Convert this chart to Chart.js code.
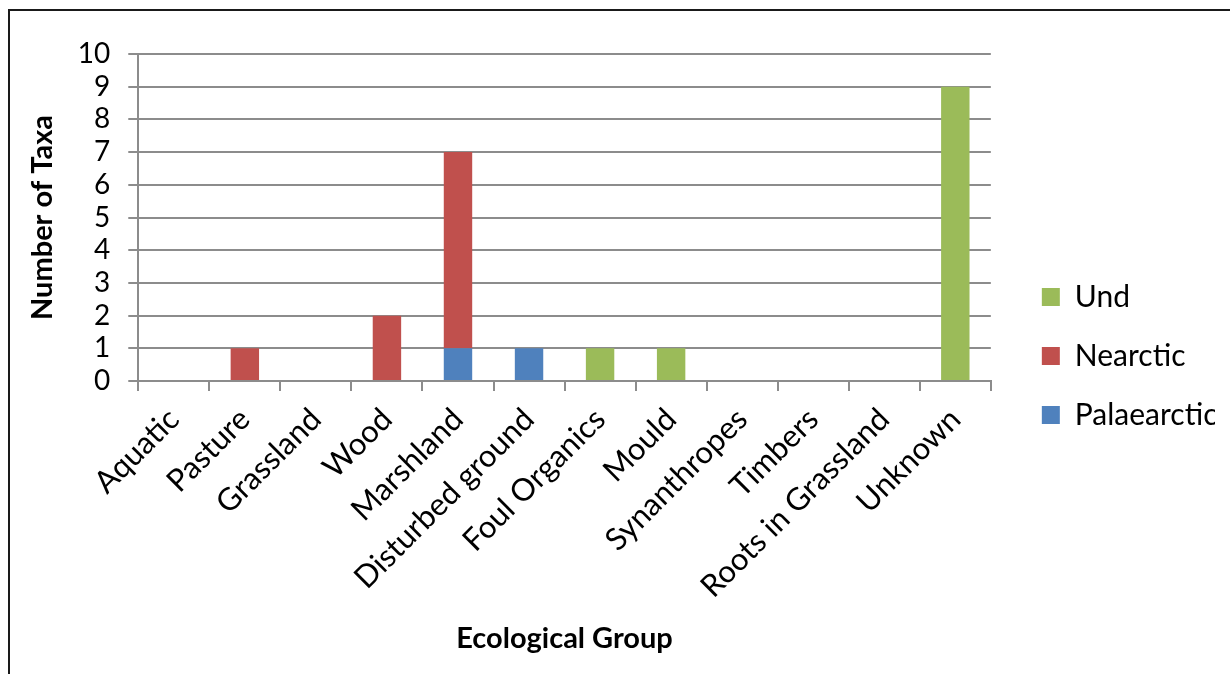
<!DOCTYPE html>
<html>
<head>
<meta charset="utf-8">
<script src="https://cdn.jsdelivr.net/npm/chart.js@4"></script>
<style>
  html, body { margin: 0; padding: 0; background: #fff; overflow: hidden; }
  #frame { position: absolute; left: 8px; top: 9px; width: 1400px; height: 900px; border: 2px solid #1a1a1a; }
  #wrap { position: absolute; left: 0; top: 0; width: 1230px; height: 674px; }
</style>
</head>
<body>
<div id="frame"></div>
<div id="wrap"><canvas id="taxaChart"></canvas></div>
<script>
  // ── data ──────────────────────────────────────────
  var groups = ["Aquatic", "Pasture", "Grassland", "Wood", "Marshland", "Disturbed ground",
                "Foul Organics", "Mould", "Synanthropes", "Timbers", "Roots in Grassland", "Unknown"];
  var palaearctic = [0, 0, 0, 0, 1, 1, 0, 0, 0, 0, 0, 0];
  var nearctic    = [0, 1, 0, 2, 6, 0, 0, 0, 0, 0, 0, 0];
  var und         = [0, 0, 0, 0, 0, 0, 1, 1, 0, 0, 0, 9];

  var FONT = "Lato, 'Open Sans', sans-serif";
  var GRID = "#8c8c8c";

  function bar(label, data, color) {
    return {
      label: label,
      data: data,
      backgroundColor: color,
      borderWidth: 0,
      categoryPercentage: 1,
      barPercentage: 0.4
    };
  }

  new Chart(document.getElementById("taxaChart"), {
    type: "bar",
    data: {
      labels: groups,
      datasets: [
        bar("Palaearctic", palaearctic, "#4f81bd"),
        bar("Nearctic", nearctic, "#c0504d"),
        bar("Und", und, "#9bbb59")
      ]
    },
    options: {
      responsive: true,
      maintainAspectRatio: false,
      animation: false,
      layout: { padding: { left: 2, top: 54, right: 15, bottom: 16 } },
      plugins: {
        tooltip: { enabled: false },
        legend: {
          position: "right",
          reverse: true,
          labels: {
            color: "#000",
            font: { family: FONT, size: 30 },
            boxWidth: 18,
            boxHeight: 18,
            padding: 29
          }
        }
      },
      scales: {
        x: {
          stacked: true,
          grid: { display: true, drawOnChartArea: false, color: GRID, lineWidth: 2, tickLength: 10 },
          border: { color: GRID, width: 2 },
          ticks: {
            color: "#000",
            font: { family: FONT, size: 31 },
            minRotation: 45,
            maxRotation: 45,
            autoSkip: false,
            padding: 10
          },
          title: {
            display: true,
            text: "Ecological Group",
            color: "#000",
            font: { family: FONT, size: 29, weight: "bold" },
            padding: { top: 6, bottom: 2 }
          }
        },
        y: {
          stacked: true,
          min: 0,
          max: 10,
          ticks: {
            stepSize: 1,
            autoSkip: false,
            color: "#000",
            font: { family: FONT, size: 28 },
            padding: 18
          },
          grid: { color: GRID, lineWidth: 2, tickLength: 10 },
          border: { color: GRID, width: 2 },
          title: {
            display: true,
            text: "Number of Taxa",
            color: "#000",
            font: { family: FONT, size: 29, weight: "bold" },
            padding: { top: 23, bottom: 0 }
          }
        },
        // empty spacer between plot and legend
        gap: {
          type: "linear",
          position: "right",
          display: true,
          grid: { display: false },
          border: { display: false },
          ticks: { display: false },
          afterFit: function (scale) { scale.width = 22; }
        }
      }
    }
  });
</script>
</body>
</html>
